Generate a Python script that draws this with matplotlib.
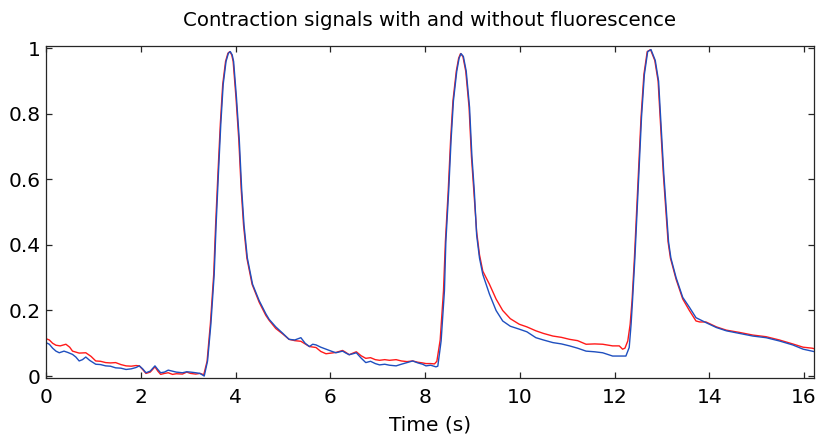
import matplotlib
matplotlib.use("Agg")
import matplotlib.pyplot as plt

plt.rcParams['font.family'] = ['DejaVu Sans']

title = "Contraction signals with and without fluorescence"
xlabel = "Time (s)"
xticks = [0, 2, 4, 6, 8, 10, 12, 14, 16]
yticks = [0, 0.2, 0.4, 0.6, 0.8, 1]
ytick_labels = ["0", "0.2", "0.4", "0.6", "0.8", "1"]

t_blue = [0.00, 0.07, 0.14, 0.21, 0.28, 0.38, 0.46, 0.56, 0.63, 0.70, 0.77, 0.84, 0.92, 1.05, 1.15,
          1.26, 1.36, 1.47, 1.58, 1.69, 1.80, 1.90, 1.97, 2.04, 2.11, 2.20, 2.30, 2.36, 2.42, 2.50,
          2.58, 2.67, 2.75, 2.88, 2.97, 3.05, 3.16, 3.25, 3.34, 3.41, 3.48, 3.55, 3.59, 3.64, 3.69,
          3.74, 3.80, 3.85, 3.89, 3.93, 3.96, 4.02, 4.08, 4.13, 4.18, 4.25, 4.36, 4.50, 4.64, 4.71,
          4.85, 5.00, 5.13, 5.25, 5.38, 5.47, 5.56, 5.63, 5.70, 5.80, 5.91, 6.02, 6.12, 6.26, 6.33,
          6.40, 6.48, 6.55, 6.65, 6.75, 6.85, 6.95, 7.04, 7.15, 7.25, 7.39, 7.50, 7.62, 7.74, 7.85,
          7.95, 8.02, 8.12, 8.23, 8.27, 8.34, 8.41, 8.44, 8.50, 8.55, 8.60, 8.67, 8.72, 8.76, 8.81,
          8.87, 8.94, 8.99, 9.04, 9.09, 9.15, 9.22, 9.36, 9.50, 9.64, 9.80, 9.99, 10.15, 10.34, 10.50,
          10.70, 10.88, 11.05, 11.22, 11.40, 11.58, 11.75, 11.96, 12.10, 12.24, 12.31, 12.35, 12.38, 12.43, 12.48,
          12.53, 12.57, 12.63, 12.70, 12.77, 12.86, 12.93, 12.98, 13.04, 13.09, 13.14, 13.19, 13.30, 13.44, 13.58,
          13.72, 13.93, 14.15, 14.36, 14.64, 14.92, 15.20, 15.48, 15.76, 15.98, 16.17, 16.20]
v_blue = [0.102, 0.097, 0.085, 0.076, 0.071, 0.076, 0.072, 0.066, 0.058, 0.046, 0.050, 0.058, 0.048, 0.036, 0.035,
          0.031, 0.030, 0.025, 0.024, 0.020, 0.022, 0.026, 0.031, 0.022, 0.010, 0.015, 0.031, 0.020, 0.010, 0.012,
          0.018, 0.015, 0.012, 0.010, 0.013, 0.012, 0.010, 0.008, 0.000, 0.046, 0.158, 0.310, 0.460, 0.620, 0.770,
          0.890, 0.960, 0.985, 0.990, 0.980, 0.960, 0.850, 0.720, 0.570, 0.460, 0.360, 0.280, 0.230, 0.190, 0.173,
          0.150, 0.130, 0.112, 0.110, 0.117, 0.100, 0.090, 0.097, 0.095, 0.088, 0.082, 0.076, 0.071, 0.076, 0.070,
          0.065, 0.068, 0.071, 0.055, 0.041, 0.045, 0.038, 0.034, 0.036, 0.033, 0.031, 0.036, 0.041, 0.046, 0.040,
          0.036, 0.031, 0.033, 0.028, 0.030, 0.107, 0.260, 0.410, 0.566, 0.720, 0.840, 0.930, 0.970, 0.984, 0.975,
          0.930, 0.820, 0.670, 0.566, 0.430, 0.360, 0.310, 0.250, 0.200, 0.168, 0.152, 0.143, 0.135, 0.117, 0.110,
          0.102, 0.098, 0.092, 0.085, 0.076, 0.074, 0.071, 0.061, 0.061, 0.061, 0.087, 0.158, 0.230, 0.360, 0.515,
          0.670, 0.790, 0.920, 0.990, 0.996, 0.963, 0.900, 0.770, 0.617, 0.515, 0.410, 0.360, 0.300, 0.240, 0.210,
          0.178, 0.163, 0.148, 0.138, 0.130, 0.122, 0.117, 0.107, 0.095, 0.082, 0.076, 0.075]

t_red = [0.00, 0.07, 0.14, 0.21, 0.30, 0.42, 0.50, 0.56, 0.70, 0.84, 0.95, 1.05, 1.15, 1.26, 1.36,
         1.47, 1.58, 1.69, 1.80, 1.90, 1.97, 2.04, 2.11, 2.20, 2.30, 2.36, 2.42, 2.50, 2.58, 2.67,
         2.75, 2.88, 2.97, 3.05, 3.16, 3.25, 3.33, 3.40, 3.47, 3.54, 3.58, 3.63, 3.68, 3.73, 3.79,
         3.84, 3.88, 3.92, 3.95, 4.01, 4.07, 4.12, 4.17, 4.24, 4.35, 4.50, 4.64, 4.71, 4.85, 5.00,
         5.13, 5.25, 5.38, 5.47, 5.56, 5.70, 5.80, 5.91, 6.02, 6.12, 6.26, 6.33, 6.40, 6.48, 6.55,
         6.65, 6.75, 6.85, 6.95, 7.04, 7.15, 7.25, 7.39, 7.50, 7.62, 7.74, 7.85, 7.95, 8.02, 8.12,
         8.20, 8.25, 8.32, 8.39, 8.43, 8.49, 8.54, 8.59, 8.66, 8.71, 8.75, 8.80, 8.86, 8.93, 8.98,
         9.03, 9.09, 9.15, 9.22, 9.36, 9.50, 9.64, 9.80, 9.99, 10.15, 10.34, 10.50, 10.70, 10.88, 11.05,
         11.22, 11.40, 11.58, 11.75, 11.96, 12.10, 12.17, 12.22, 12.28, 12.33, 12.37, 12.42, 12.47, 12.52, 12.56,
         12.62, 12.69, 12.76, 12.85, 12.92, 12.97, 13.03, 13.08, 13.13, 13.18, 13.30, 13.44, 13.58, 13.72, 13.80,
         13.93, 14.15, 14.36, 14.64, 14.92, 15.20, 15.48, 15.76, 15.98, 16.17, 16.20]
v_red = [0.114, 0.110, 0.100, 0.094, 0.092, 0.097, 0.088, 0.076, 0.070, 0.071, 0.060, 0.046, 0.045, 0.041, 0.040,
         0.041, 0.035, 0.031, 0.030, 0.032, 0.031, 0.020, 0.008, 0.012, 0.028, 0.015, 0.005, 0.008, 0.010, 0.005,
         0.007, 0.006, 0.012, 0.008, 0.006, 0.008, 0.004, 0.045, 0.160, 0.310, 0.460, 0.620, 0.770, 0.890, 0.960,
         0.985, 0.990, 0.980, 0.960, 0.850, 0.720, 0.570, 0.460, 0.360, 0.280, 0.225, 0.185, 0.170, 0.145, 0.128,
         0.112, 0.108, 0.106, 0.098, 0.090, 0.087, 0.075, 0.068, 0.070, 0.072, 0.078, 0.072, 0.065, 0.070, 0.074,
         0.062, 0.054, 0.056, 0.050, 0.048, 0.050, 0.048, 0.050, 0.046, 0.044, 0.046, 0.042, 0.040, 0.038, 0.038,
         0.037, 0.045, 0.110, 0.260, 0.410, 0.566, 0.720, 0.840, 0.930, 0.970, 0.984, 0.975, 0.930, 0.820, 0.670,
         0.566, 0.440, 0.370, 0.320, 0.280, 0.235, 0.200, 0.175, 0.158, 0.150, 0.138, 0.130, 0.122, 0.118, 0.112,
         0.108, 0.097, 0.098, 0.097, 0.092, 0.092, 0.082, 0.085, 0.107, 0.158, 0.230, 0.360, 0.515, 0.670, 0.790,
         0.920, 0.990, 0.996, 0.963, 0.900, 0.770, 0.617, 0.515, 0.410, 0.360, 0.295, 0.235, 0.200, 0.168, 0.165,
         0.165, 0.150, 0.140, 0.133, 0.125, 0.120, 0.110, 0.098, 0.088, 0.085, 0.084]

fig = plt.figure(figsize=(8.2, 4.38), dpi=100)
ax = fig.add_axes([46 / 820, 1 - 378 / 438, (813.5 - 46) / 820, (378 - 45.7) / 438])

ax.plot(t_red, v_red, color='#ff1a1a', lw=1.0)
ax.plot(t_blue, v_blue, color='#1f4fbf', lw=1.0)

ax.set_xlim(0, 16.2)
ax.set_ylim(-0.006, 1.008)
ax.set_xticks(xticks)
ax.set_xticklabels([str(x) for x in xticks])
ax.set_yticks(yticks)
ax.set_yticklabels(ytick_labels)
ax.tick_params(direction='in', length=4, width=0.9, top=True, right=True,
               labelsize=14.5, colors='#262626', labelcolor='black')
ax.tick_params(axis='x', pad=7)
ax.tick_params(axis='y', pad=4)
for s in ax.spines.values():
    s.set_linewidth(0.9)
    s.set_color('#262626')

ax.set_title(title, fontsize=14.2, pad=14)
ax.set_xlabel(xlabel, fontsize=14.5, labelpad=6)

fig.savefig("out.png", dpi=100)
